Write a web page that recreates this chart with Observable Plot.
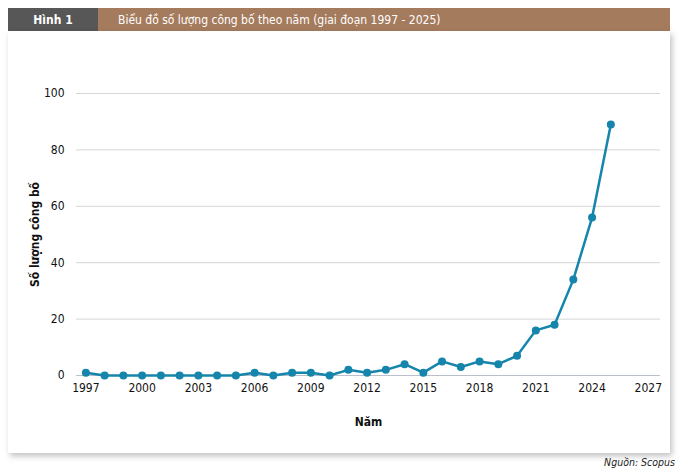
<!DOCTYPE html>
<html><head><meta charset="utf-8">
<script src="https://cdn.jsdelivr.net/npm/d3@7"></script>
<script src="https://cdn.jsdelivr.net/npm/@observablehq/plot@0.6"></script>
<style>
body{margin:0;background:#fff;font-family:"Liberation Sans Narrow","DejaVu Sans Condensed",sans-serif;}
#wrap{position:absolute;left:0;top:0;width:687px;height:475px;background:#fff;}
#hdr{position:absolute;left:8px;top:8px;width:662px;height:23px;display:flex;font-size:12px;color:#fff;}
#hdr .n{width:90px;background:#575757;display:flex;align-items:center;justify-content:center;font-weight:bold;}
#hdr .t{flex:1;background:#a57b5e;display:flex;align-items:center;padding-left:20px;}
#panel{position:absolute;left:8px;top:31px;width:662px;height:422px;background:#fff;box-shadow:2px 3px 6px rgba(0,0,0,0.25);}
#src{position:absolute;right:12px;top:456px;font-size:10.5px;font-style:italic;color:#222;}
</style></head>
<body><div id="wrap">
<div id="hdr"><div class="n">Hình 1</div><div class="t">Biểu đồ số lượng công bố theo năm (giai đoạn 1997 - 2025)</div></div>
<div id="panel"></div>
<div id="src">Nguồn: Scopus</div>
</div>
<script>
const years = [1997,1998,1999,2000,2001,2002,2003,2004,2005,2006,2007,2008,2009,2010,2011,2012,2013,2014,2015,2016,2017,2018,2019,2020,2021,2022,2023,2024,2025];
const counts = [1,0,0,0,0,0,0,0,0,1,0,1,1,0,2,1,2,4,1,5,3,5,4,7,16,18,34,56,89];
const xTicks = [1997,2000,2003,2006,2009,2012,2015,2018,2021,2024,2027];
const yTicks = [0,20,40,60,80,100];
const data = years.map((y,i)=>({year:y,count:counts[i]}));
const chart = Plot.plot({
  width:662, height:420,
  marginLeft:68, marginRight:10, marginTop:62, marginBottom:76,
  style:{fontFamily:'"Liberation Sans Narrow","DejaVu Sans Condensed",sans-serif',fontSize:"12px",color:"#111"},
  x:{domain:[1996.5,2027.65],ticks:xTicks,tickFormat:"d",tickSize:0,tickPadding:8,label:"Năm",labelAnchor:"center",labelArrow:"none",labelOffset:50},
  y:{domain:[0,100],ticks:yTicks,tickSize:0,tickPadding:12,label:"Số lượng công bố",labelAnchor:"center",labelArrow:"none",labelOffset:46},
  marks:[
    Plot.gridY(yTicks.filter(d=>d>0),{stroke:"#d6d6d6",strokeOpacity:1,strokeWidth:1}),
    Plot.ruleY([0],{stroke:"#b9bfcc",strokeWidth:1}),
    Plot.line(data,{x:"year",y:"count",stroke:"#1585ab",strokeWidth:2.5}),
    Plot.dot(data,{x:"year",y:"count",fill:"#1585ab",r:4})
  ]
});
chart.querySelectorAll('g[aria-label="x-axis label"] text, g[aria-label="y-axis label"] text').forEach(t=>t.setAttribute("font-weight","bold"));
document.getElementById("panel").appendChild(chart);
</script>
</body></html>
